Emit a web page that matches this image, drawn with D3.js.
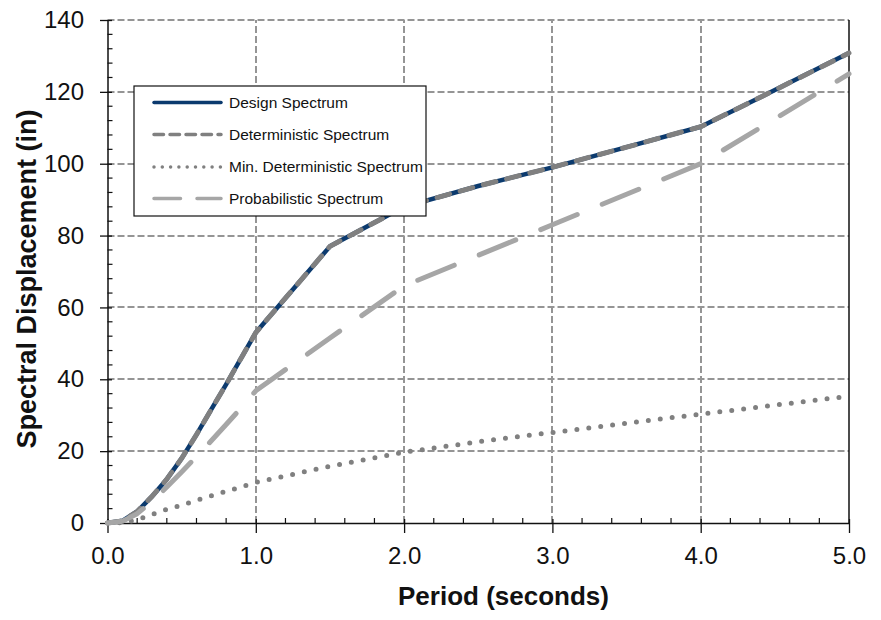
<!DOCTYPE html>
<html>
<head>
<meta charset="utf-8">
<script src="https://cdn.jsdelivr.net/npm/d3@7"></script>
<style>
  html, body { margin: 0; padding: 0; background: #fff; }
  svg { display: block; font-family: Arial, "Liberation Sans", sans-serif; }
</style>
</head>
<body>
<svg id="chart" width="881" height="620"></svg>
<script>
// ---- data ----
const designPeriods = [0, 0.1, 0.2, 0.3, 0.4, 0.5, 0.6, 0.7, 0.8, 0.9, 1.0, 1.25, 1.5, 1.75, 2.0, 2.5, 3.0, 3.5, 4.0, 4.5, 5.0];
const designValues  = [0, 0.6, 3.2, 7.4, 12.2, 18.0, 24.6, 31.6, 38.6, 45.8, 53.0, 65.0, 77.0, 82.5, 88.0, 93.8, 99.0, 104.6, 110.3, 120.5, 130.8];
const deterministicPeriods = [0, 0.1, 0.2, 0.3, 0.4, 0.5, 0.6, 0.7, 0.8, 0.9, 1.0, 1.25, 1.5, 1.75, 2.0, 2.5, 3.0, 3.5, 4.0, 4.5, 5.0];
const deterministicValues  = [0, 0.6, 3.2, 7.4, 12.2, 18.0, 24.6, 31.6, 38.6, 45.8, 53.0, 65.0, 77.0, 82.5, 88.0, 93.8, 99.0, 104.6, 110.3, 120.5, 130.8];
const minDetPeriods = [0, 0.1, 0.2, 0.3, 0.4, 0.5, 0.6, 0.8, 1.0, 1.5, 2.0, 2.5, 3.0, 3.5, 4.0, 4.5, 5.0];
const minDetValues  = [0, 0.1, 0.9, 2.4, 3.8, 5.0, 6.3, 8.8, 11.3, 15.8, 19.7, 22.6, 25.2, 27.8, 30.3, 32.8, 35.3];
const probPeriods = [0, 0.1, 0.2, 0.3, 0.4, 0.5, 0.6, 0.7, 0.8, 0.9, 1.0, 1.5, 2.0, 2.5, 3.0, 3.5, 4.0, 4.5, 5.0];
const probValues  = [0, 0.5, 2.6, 6.0, 10.0, 14.2, 18.5, 22.9, 27.4, 32.0, 36.8, 51.5, 66.0, 74.5, 83.0, 91.5, 100.0, 112.5, 125.0];

const xTicks = [0, 1, 2, 3, 4, 5];
const xTickLabels = ["0.0", "1.0", "2.0", "3.0", "4.0", "5.0"];
const yTicks = [0, 20, 40, 60, 80, 100, 120, 140];
const yTickLabels = ["0", "20", "40", "60", "80", "100", "120", "140"];
const seriesNames = ["Design Spectrum", "Deterministic Spectrum", "Min. Deterministic Spectrum", "Probabilistic Spectrum"];
const xTitle = "Period (seconds)";
const yTitle = "Spectral Displacement (in)";

// ---- layout ----
const svg = d3.select("#chart");
const x = d3.scaleLinear().domain([0, 5]).range([107.5, 849]);
const y = d3.scaleLinear().domain([0, 140]).range([523, 20]);

const gridColor = "#959595";
const navy = "#0b3a6e";
const gray = "#808080";
const light = "#a6a6a6";

// gridlines
const grid = svg.append("g");
grid.selectAll("line.h").data(yTicks.filter(d => d > 0)).join("line")
  .attr("x1", x(0)).attr("x2", x(5))
  .attr("y1", d => Math.round(y(d))).attr("y2", d => Math.round(y(d)))
  .attr("stroke", gridColor).attr("stroke-width", 2).attr("stroke-dasharray", "7,3");
grid.selectAll("line.v").data(xTicks.filter(d => d > 0 && d < 5)).join("line")
  .attr("y1", y(0)).attr("y2", y(140))
  .attr("x1", d => Math.round(x(d))).attr("x2", d => Math.round(x(d)))
  .attr("stroke", gridColor).attr("stroke-width", 2).attr("stroke-dasharray", "7,3");

// right border
svg.append("line").attr("x1", x(5)).attr("x2", x(5)).attr("y1", y(0)).attr("y2", y(140))
  .attr("stroke", "#111").attr("stroke-width", 1.5);

// axes
const xAxis = d3.axisBottom(x).tickValues(xTicks).tickFormat((d, i) => xTickLabels[i])
  .tickSizeInner(10).tickSizeOuter(0).tickPadding(14);
const gx = svg.append("g").attr("transform", `translate(0,${y(0)})`).call(xAxis);
gx.select(".domain").attr("stroke", "#111").attr("stroke-width", 1.5);
gx.selectAll(".tick line").attr("stroke", "#111").attr("stroke-width", 1.3).attr("y1", -4);
gx.selectAll(".tick text").attr("font-size", 24).attr("fill", "#111")
  .attr("font-family", "Arial, 'Liberation Sans', sans-serif");
// x minor ticks (inside)
const xMinor = d3.range(0, 5.0001, 0.2).filter(v => Math.abs(v - Math.round(v)) > 1e-6);
svg.append("g").selectAll("line").data(xMinor).join("line")
  .attr("x1", d => x(d)).attr("x2", d => x(d)).attr("y1", y(0)).attr("y2", y(0) - 5)
  .attr("stroke", "#111").attr("stroke-width", 1.2);

const yAxis = d3.axisLeft(y).tickValues(yTicks).tickFormat((d, i) => yTickLabels[i])
  .tickSizeInner(7.5).tickSizeOuter(0).tickPadding(16);
const gy = svg.append("g").attr("transform", `translate(${x(0)},0)`).call(yAxis);
gy.select(".domain").attr("stroke", "#111").attr("stroke-width", 1.5);
gy.selectAll(".tick line").attr("stroke", "#111").attr("stroke-width", 1.3).attr("x2", 4.5).attr("x1", -7.5);
gy.selectAll(".tick text").attr("font-size", 24).attr("fill", "#111")
  .attr("font-family", "Arial, 'Liberation Sans', sans-serif");
const yMinor = d3.range(0, 140.001, 4).filter(v => v % 20 !== 0);
svg.append("g").selectAll("line").data(yMinor).join("line")
  .attr("x1", x(0)).attr("x2", x(0) + 5).attr("y1", d => y(d)).attr("y2", d => y(d))
  .attr("stroke", "#111").attr("stroke-width", 1.2);

// series
const line = d3.line().x(d => x(d[0])).y(d => y(d[1]));
const zip = (a, b) => a.map((v, i) => [v, b[i]]);
const plot = svg.append("g");
plot.append("path").datum(zip(designPeriods, designValues)).attr("d", line)
  .attr("fill", "none").attr("stroke", navy).attr("stroke-width", 4.5).attr("stroke-linejoin", "round");
plot.append("path").datum(zip(deterministicPeriods, deterministicValues)).attr("d", line)
  .attr("fill", "none").attr("stroke", gray).attr("stroke-width", 5)
  .attr("stroke-linecap", "round").attr("stroke-linejoin", "round").attr("stroke-dasharray", "13,11");
plot.append("path").datum(zip(minDetPeriods, minDetValues)).attr("d", line)
  .attr("fill", "none").attr("stroke", gray).attr("stroke-width", 5)
  .attr("stroke-linecap", "round").attr("stroke-dasharray", "0,12");
plot.append("path").datum(zip(probPeriods, probValues)).attr("d", line)
  .attr("fill", "none").attr("stroke", light).attr("stroke-width", 5)
  .attr("stroke-linecap", "round").attr("stroke-linejoin", "round").attr("stroke-dasharray", "39.5,27");

// legend
const lg = svg.append("g");
lg.append("rect").attr("x", 134).attr("y", 86).attr("width", 292).attr("height", 130)
  .attr("fill", "#fff").attr("stroke", "#111").attr("stroke-width", 1.2);
const legendStyles = [
  { color: navy, width: 3.5, dash: null, cap: "round" },
  { color: gray, width: 3.5, dash: "9.5,6.5", cap: "round" },
  { color: gray, width: 3.5, dash: "0,8.3", cap: "round" },
  { color: light, width: 3.5, dash: "26.5,16.5", cap: "round" }
];
const rowY = [102.5, 134.5, 167, 198.5];
seriesNames.forEach((name, i) => {
  const s = legendStyles[i];
  const l = lg.append("line").attr("x1", 154).attr("x2", 221).attr("y1", rowY[i]).attr("y2", rowY[i])
    .attr("stroke", s.color).attr("stroke-width", s.width).attr("stroke-linecap", s.cap);
  if (s.dash) l.attr("stroke-dasharray", s.dash);
  lg.append("text").attr("x", 229).attr("y", rowY[i]).attr("dy", "0.35em")
    .attr("font-size", 15.5).attr("fill", "#111").text(name);
});

// axis titles
svg.append("text").attr("x", 503.5).attr("y", 605).attr("text-anchor", "middle")
  .attr("font-size", 26).attr("font-weight", "bold").attr("fill", "#111").text(xTitle);
svg.append("text").attr("transform", "translate(36,279) rotate(-90)").attr("text-anchor", "middle")
  .attr("font-size", 27).attr("font-weight", "bold").attr("fill", "#111").text(yTitle);
</script>
</body>
</html>
